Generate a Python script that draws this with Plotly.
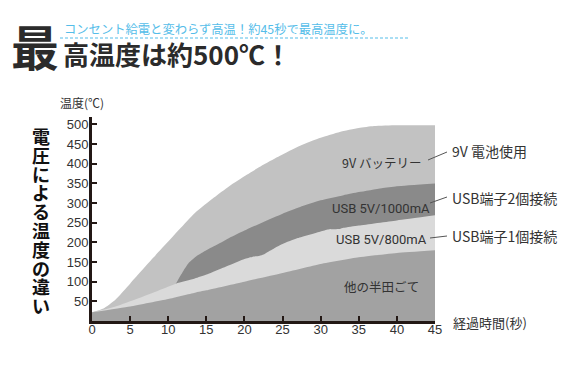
import plotly.graph_objects as go

# ---- data ----
x_9v = [0, 1.5, 3, 5, 8, 10, 11.5, 13.5, 16, 18, 20.3, 22.7, 24.6, 27.3, 30, 32.5, 35, 37, 40, 45]
y_9v = [22, 32, 53, 95, 160, 202, 234, 275, 314, 343, 372, 400, 420, 446, 466, 481, 491, 496, 498, 498]

x_1000 = [11, 11.5, 12, 12.7, 13.7, 15, 16.5, 18, 20, 22.5, 25, 27.3, 30, 33, 35, 38, 40, 45]
y_1000 = [95, 112, 128, 148, 165, 180, 195, 211, 230, 252, 273, 290, 307, 320, 328, 338, 343, 350]

x_800 = [0, 3, 5, 8, 11, 13.5, 15, 18, 20, 21, 22, 22.5, 23, 24, 25, 27, 30, 31, 32.5, 33, 35, 40, 45]
y_800 = [22, 36, 50, 72, 95, 108, 118, 142, 158, 163, 166, 169, 175, 186, 196, 211, 228, 233, 234, 237, 243, 256, 269]

x_other = [0, 5, 10, 13.5, 15, 20, 25, 30, 35, 40, 45]
y_other = [22, 37, 56, 72, 78, 100, 122, 145, 162, 173, 180]

x_ticks = [0, 5, 10, 15, 20, 25, 30, 35, 40, 45]
y_ticks = [50, 100, 150, 200, 250, 300, 350, 400, 450, 500]

inner_labels = ["9V バッテリー", "USB 5V/1000mA", "USB 5V/800mA", "他の半田ごて"]
right_labels = ["9V 電池使用", "USB端子2個接続", "USB端子1個接続"]
side_title = "電圧による温度の違い"

# ---- layout geometry (reference pixels; page body adds an 8px offset) ----
W, H = 580, 368
OFF = 8
L, R, T, B = 92, 435, 117, 321


def P(X, Y):
    return (X - L) / (R - L), (B - Y) / (B - T)


CJK = "Noto Sans CJK JP"
AX = "#231815"

fig = go.Figure()
series = [
    (x_9v, y_9v, "#c2c2c2"),
    (x_1000, y_1000, "#8a8a8a"),
    (x_800, y_800, "#dadada"),
    (x_other, y_other, "#a2a2a2"),
]
for xs, ys, col in series:
    fig.add_trace(go.Scatter(x=xs, y=ys, mode="lines", fill="tozeroy",
                             fillcolor=col, line=dict(width=0, color=col, shape="spline", smoothing=0.5),
                             hoverinfo="skip", showlegend=False))

annotations = []


def ann(text, X, Y, size, color="#333", xanchor="center", family=CJK, weight="normal"):
    px, py = P(X, Y)
    annotations.append(dict(text=text, x=px, y=py, xref="paper", yref="paper", showarrow=False,
                            xanchor=xanchor, yanchor="middle",
                            font=dict(size=size, color=color, family=family, weight=weight)))


# titles
ann("最", 35, 45, 48, color="#2b2b2b", weight="bold")
ann("高温度は約500℃！", 61, 53, 26, color="#2b2b2b", xanchor="left", weight="bold")
ann("コンセント給電と変わらず高温！約45秒で最高温度に。", 62, 29, 12.3, color="#55bde9", xanchor="left")

# vertical side title
for i, ch in enumerate(side_title):
    ann(ch, 41, 136 + i * 18.8, 18, color="#111", weight="bold")

# axis titles
ann("温度(℃)", 58, 102, 12, xanchor="left")
ann("経過時間(秒)", 451, 322, 13, xanchor="left")

# inner labels
latin = "Roboto, Noto Sans CJK JP, sans-serif"
for t, Y in zip(inner_labels, [162, 208, 239, 286]):
    fam = latin if t.startswith("USB") else CJK
    ann(t, 381, Y, 13 if t.startswith("USB") else 12.5, color="#333", family=fam)

# right labels
for t, Y in zip(right_labels, [151, 198, 236]):
    ann(t, 450, Y, 14, color="#333", xanchor="left")

shapes = []
for (x0, y0, x1, y1) in [(428, 160, 447, 152), (430, 203, 447, 197), (430, 238, 447, 236)]:
    a0, b0 = P(x0, y0)
    a1, b1 = P(x1, y1)
    shapes.append(dict(type="line", xref="paper", yref="paper", x0=a0, y0=b0, x1=a1, y1=b1,
                       line=dict(color="#555", width=1)))
a0, b0 = P(60, 38)
a1, b1 = P(410, 38)
shapes.append(dict(type="line", xref="paper", yref="paper", x0=a0, y0=b0, x1=a1, y1=b1,
                   line=dict(color="#55bde9", width=1, dash="3px,2px")))

fig.update_layout(
    width=W, height=H,
    margin=dict(l=L - OFF, r=W - (R - OFF), t=T - OFF, b=H - (B - OFF), pad=0),
    paper_bgcolor="white", plot_bgcolor="white",
    annotations=annotations, shapes=shapes,
    xaxis=dict(range=[0, 45], tickvals=x_ticks, ticktext=[str(v) for v in x_ticks],
               ticks="inside", ticklen=5, tickwidth=2, tickcolor=AX, ticklabelstandoff=-6,
               showline=True, linecolor=AX, linewidth=3, showgrid=False, zeroline=False,
               tickfont=dict(family="Liberation Sans, Arial", size=13, color="#333")),
    yaxis=dict(range=[0, 519], tickvals=y_ticks, ticktext=[str(v) for v in y_ticks],
               ticks="inside", ticklen=5, tickwidth=2, tickcolor=AX, ticklabelstandoff=-2,
               showline=True, linecolor=AX, linewidth=3, showgrid=False, zeroline=False,
               tickfont=dict(family="Liberation Sans, Arial", size=13, color="#333")),
)

fig.write_html("out.html")
